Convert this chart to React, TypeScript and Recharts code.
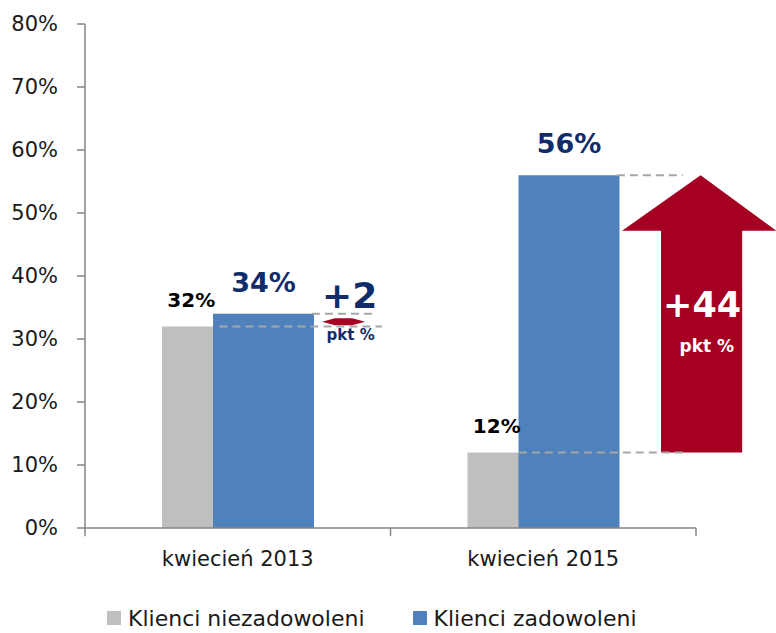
import React from "react";
import {
  BarChart,
  Bar,
  XAxis,
  YAxis,
  Legend,
  ReferenceLine,
  ReferenceArea,
} from "recharts";

const categories = ["kwiecień 2013", "kwiecień 2015"];
const niezadowoleni = [32, 12];
const zadowoleni = [34, 56];
const yTicks = [0, 10, 20, 30, 40, 50, 60, 70, 80];

// boundaries of the categories on a hidden 0..2 helper axis
const boundaries = [0, 1, 2];

// dashed guide lines: value level and span on helper axis
const guides = [
  { y: 34, from: 0.743, to: 0.95 },
  { y: 32, from: 0.44, to: 0.972 },
  { y: 56, from: 1.741, to: 1.957 },
  { y: 12, from: 1.42, to: 1.957 },
];

const smallChange = { label: "+2", from: 32.2, to: 33.3, x1: 0.776, x2: 0.917 };
const bigChange = { label: "+44", from: 12, to: 56, x1: 1.758, x2: 2.262 };

const data = categories.map((category, i) => ({
  category,
  pos: i + 0.5,
  niezadowoleni: niezadowoleni[i],
  zadowoleni: zadowoleni[i],
}));

const FONT = "'DejaVu Sans', sans-serif";
const GREY = "#BFBFBF";
const BLUE = "#4F81BD";
const NAVY = "#112C6A";
const RED = "#A50021";
const AXIS = "#868686";

function greyLabel(props: any) {
  const { x, y, width, value } = props;
  return (
    <text
      x={x + width / 4 + 4}
      y={y - 19}
      textAnchor="middle"
      fontFamily={FONT}
      fontWeight="bold"
      fontSize={20}
      fill="#000"
    >
      {value}%
    </text>
  );
}

function blueLabel(props: any) {
  const { x, y, width, value } = props;
  return (
    <text
      x={x + width / 2}
      y={y - 22}
      textAnchor="middle"
      fontFamily={FONT}
      fontWeight="bold"
      fontSize={27}
      fill={NAVY}
    >
      {value}%
    </text>
  );
}

function SmallArrow(props: any) {
  const { x, y, width, height } = props;
  const cy = y + height / 2;
  const pts = [
    [x, cy],
    [x + width * 0.3, y],
    [x + width * 0.7, y],
    [x + width, cy],
    [x + width * 0.7, y + height],
    [x + width * 0.3, y + height],
  ]
    .map((p) => p.join(","))
    .join(" ");
  return (
    <g>
      <polygon points={pts} fill={RED} />
      <text
        x={x + width / 2 + 6}
        y={y - 10}
        textAnchor="middle"
        fontFamily={FONT}
        fontWeight="bold"
        fontSize={36}
        fill={NAVY}
      >
        {smallChange.label}
      </text>
      <text
        x={x + width / 2 + 7}
        y={y + height + 15}
        textAnchor="middle"
        fontFamily={FONT}
        fontWeight="bold"
        fontSize={15}
        fill={NAVY}
      >
        pkt %
      </text>
    </g>
  );
}

function BigArrow(props: any) {
  const { x, y, width, height } = props;
  const headBase = y + height * 0.2;
  const sl = x + width * 0.253;
  const sr = x + width * 0.78;
  const pts = [
    [x + width * 0.51, y],
    [x + width, headBase],
    [sr, headBase],
    [sr, y + height],
    [sl, y + height],
    [sl, headBase],
    [x, headBase],
  ]
    .map((p) => p.join(","))
    .join(" ");
  return (
    <g>
      <polygon points={pts} fill={RED} />
      <text
        x={x + width * 0.52}
        y={y + height * 0.51}
        textAnchor="middle"
        fontFamily={FONT}
        fontWeight="bold"
        fontSize={35}
        fill="#fff"
      >
        {bigChange.label}
      </text>
      <text
        x={x + width * 0.55}
        y={y + height * 0.637}
        textAnchor="middle"
        fontFamily={FONT}
        fontWeight="bold"
        fontSize={17}
        fill="#fff"
      >
        pkt %
      </text>
    </g>
  );
}

function LegendContent(props: any) {
  const items = props.payload || [];
  return (
    <div
      style={{
        display: "flex",
        alignItems: "center",
        height: 50,
        paddingTop: 20,
        paddingLeft: 107,
        boxSizing: "border-box",
        fontFamily: FONT,
        fontSize: 22,
        color: "#1a1a1a",
        gap: 48,
      }}
    >
      {items.map((item: any) => (
        <div key={item.value} style={{ display: "flex", alignItems: "center" }}>
          <span
            style={{
              display: "inline-block",
              width: 14,
              height: 14,
              backgroundColor: item.color,
              marginRight: 7,
            }}
          />
          <span>{item.value}</span>
        </div>
      ))}
    </div>
  );
}

export default function App() {
  return (
    <div style={{ position: "absolute", left: 0, top: 0, background: "#fff" }}>
      <BarChart
        width={776}
        height={633}
        data={data}
        margin={{ top: 24, right: 80, left: 0, bottom: 0 }}
        barSize={101}
        barGap={-50}
      >
        <XAxis
          dataKey="category"
          axisLine={{ stroke: AXIS, strokeWidth: 1.5 }}
          tickLine={false}
          tickSize={8}
          tickMargin={15}
          height={55}
          tick={{ fontFamily: FONT, fontSize: 21, fill: "#1a1a1a" }}
        />
        <XAxis
          xAxisId="num"
          dataKey="pos"
          type="number"
          domain={[0, 2]}
          allowDataOverflow
          hide
        />
        <YAxis
          domain={[0, 80]}
          ticks={yTicks}
          width={85}
          tickSize={8}
          tickMargin={19}
          tickFormatter={(v) => `${v}%`}
          axisLine={{ stroke: AXIS, strokeWidth: 1.5 }}
          tickLine={{ stroke: AXIS, strokeWidth: 1.5 }}
          tick={{ fontFamily: FONT, fontSize: 21, fill: "#1a1a1a" }}
        />
        <Legend
          verticalAlign="bottom"
          content={<LegendContent />}
          wrapperStyle={{ left: 0, width: 776, bottom: 0 }}
        />
        <Bar
          dataKey="niezadowoleni"
          name="Klienci niezadowoleni"
          fill={GREY}
          isAnimationActive={false}
          label={greyLabel}
        />
        <Bar
          dataKey="zadowoleni"
          name="Klienci zadowoleni"
          fill={BLUE}
          isAnimationActive={false}
          label={blueLabel}
        />
        {boundaries.map((b) => (
          <ReferenceLine
            key={`b${b}`}
            xAxisId="num"
            ifOverflow="visible"
            segment={[
              { x: b, y: 0 },
              { x: b, y: -1.3 },
            ]}
            stroke={AXIS}
            strokeWidth={1.5}
          />
        ))}
        {guides.map((g) => (
          <ReferenceLine
            key={`g${g.y}`}
            xAxisId="num"
            ifOverflow="visible"
            segment={[
              { x: g.from, y: g.y },
              { x: g.to, y: g.y },
            ]}
            stroke="#A6A6A6"
            strokeWidth={2}
            strokeDasharray="8 5"
          />
        ))}
        <ReferenceArea
          xAxisId="num"
          ifOverflow="visible"
          x1={smallChange.x1}
          x2={smallChange.x2}
          y1={smallChange.from}
          y2={smallChange.to}
          shape={<SmallArrow />}
        />
        <ReferenceArea
          xAxisId="num"
          ifOverflow="visible"
          x1={bigChange.x1}
          x2={bigChange.x2}
          y1={bigChange.from}
          y2={bigChange.to}
          shape={<BigArrow />}
        />
      </BarChart>
    </div>
  );
}
